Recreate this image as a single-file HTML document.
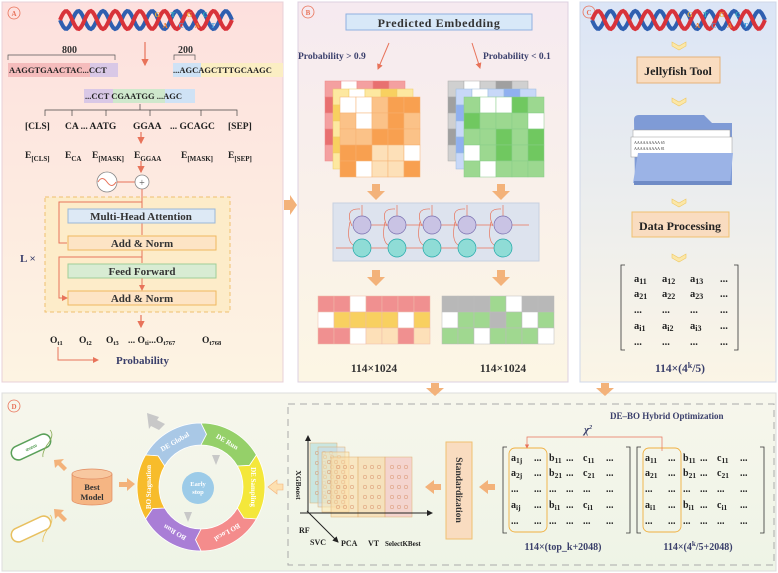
<!DOCTYPE html>
<html><head><meta charset="utf-8">
<style>
html,body{margin:0;padding:0;background:#fff;}
svg{display:block;font-family:"Liberation Serif",serif;font-weight:bold;}
</style></head>
<body>
<svg id="fig" width="778" height="573" viewBox="0 0 778 573" xmlns="http://www.w3.org/2000/svg">
<defs>
<linearGradient id="gA" x1="0" y1="0" x2="0" y2="1"><stop offset="0" stop-color="#fde0de"/><stop offset="1" stop-color="#fdf4e2"/></linearGradient>
<linearGradient id="gB" x1="0" y1="0" x2="0" y2="1"><stop offset="0" stop-color="#f6eaf0"/><stop offset="1" stop-color="#fcf6e4"/></linearGradient>
<linearGradient id="gC" x1="0" y1="0" x2="0" y2="1"><stop offset="0" stop-color="#dbe5f6"/><stop offset="1" stop-color="#fbf5e6"/></linearGradient>
<linearGradient id="gD" x1="0" y1="0" x2="0" y2="1"><stop offset="0" stop-color="#f7f6ec"/><stop offset="1" stop-color="#eef4e6"/></linearGradient>
<marker id="ar" markerWidth="6" markerHeight="6" refX="5" refY="3" orient="auto"><path d="M0,0 L6,3 L0,6 z" fill="#e8735a"/></marker>
<marker id="arb" markerWidth="6" markerHeight="6" refX="5" refY="3" orient="auto"><path d="M0,0 L6,3 L0,6 z" fill="#222"/></marker>
</defs>

<rect x="2" y="2" width="281" height="380" fill="url(#gA)" stroke="#e8d0d8"/>
<rect x="298" y="2" width="270" height="380" fill="url(#gB)" stroke="#ddd0e0"/>
<rect x="580" y="2" width="196" height="380" fill="url(#gC)" stroke="#d0d8e8"/>
<rect x="2" y="393" width="774" height="178" fill="url(#gD)" stroke="#ddd"/>

<g fill="none" stroke="#e8735a" stroke-width="0.8" font-size="7">
<circle cx="14" cy="13" r="6"/><circle cx="308" cy="12" r="6"/><circle cx="589" cy="12" r="6"/><circle cx="14" cy="406" r="6"/>
</g>
<g fill="#e8735a" font-size="7" text-anchor="middle"><text x="14" y="16">A</text><text x="308" y="15">B</text><text x="589" y="15">C</text><text x="14" y="409">D</text></g>

<g id="dnaA"></g>
<g id="dnaC"></g>

<g font-size="9">
<text x="62" y="53" font-size="10" fill="#333">800</text>
<path d="M8,60 V55 H115 V60" fill="none" stroke="#555" stroke-width="0.7"/>
<rect x="8" y="63" width="82" height="14" fill="#f5bcbc"/><rect x="90" y="63" width="28" height="14" fill="#d9c8e6"/>
<text x="9" y="73" font-size="8.5" fill="#222">AAGGTGAACTAC...CCT</text>
<text x="178" y="53" font-size="10" fill="#333">200</text>
<path d="M174,60 V55 H195 V60" fill="none" stroke="#555" stroke-width="0.7"/>
<rect x="173" y="63" width="28" height="14" fill="#cfe2f5"/><rect x="201" y="63" width="82" height="14" fill="#fbeec3"/>
<text x="173" y="73" font-size="8.5" fill="#222">...AGCAGCTTTGCAAGC</text>
<line x1="145" y1="42" x2="145" y2="65" stroke="#e8735a" stroke-width="1.2" marker-end="url(#ar)"/>
<rect x="84" y="89" width="29" height="14" fill="#d9c8e6"/><rect x="113" y="89" width="52" height="14" fill="#cfe8cc"/><rect x="165" y="89" width="30" height="14" fill="#cfe2f5"/>
<text x="85" y="99" font-size="8.5" fill="#222">...CCT CGAATGG ...AGC</text>
<path d="M140,104 V110 M45,116 V110 H237 V116 M72,110 V116 M106,110 V116 M150,110 V116 M201,110 V116" fill="none" stroke="#444" stroke-width="0.7"/>
<text y="129" font-size="9.5" fill="#222"><tspan x="25">[CLS]</tspan><tspan x="65">CA ... AATG</tspan><tspan x="133">GGAA</tspan><tspan x="170">... GCAGC</tspan><tspan x="228">[SEP]</tspan></text>
<line x1="141" y1="132" x2="141" y2="143" stroke="#e8735a" stroke-width="1.2" marker-end="url(#ar)"/>
<text y="158" font-size="9.5" fill="#222"><tspan x="25">E</tspan><tspan font-size="7" dy="3">[CLS]</tspan><tspan x="65" dy="-3">E</tspan><tspan font-size="7" dy="3">CA</tspan><tspan x="92" dy="-3">E</tspan><tspan font-size="7" dy="3">[MASK]</tspan><tspan x="134" dy="-3">E</tspan><tspan font-size="7" dy="3">GGAA</tspan><tspan x="181" dy="-3">E</tspan><tspan font-size="7" dy="3">[MASK]</tspan><tspan x="228" dy="-3">E</tspan><tspan font-size="7" dy="3">[SEP]</tspan></text>
<line x1="141" y1="161" x2="141" y2="172" stroke="#e8735a" stroke-width="1.2" marker-end="url(#ar)"/>
</g>
<g>
<circle cx="107" cy="182" r="10" fill="#fff" stroke="#888" stroke-width="0.8"/>
<path d="M98,182 Q102,175 107,182 T116,182" fill="none" stroke="#e8735a"/>
<line x1="117" y1="182" x2="135" y2="182" stroke="#e8735a"/>
<circle cx="142" cy="182" r="7" fill="#fff" stroke="#888" stroke-width="0.8"/>
<text x="142" y="186" font-size="10" text-anchor="middle" fill="#555" font-weight="normal">+</text>
</g>
<g>
<rect x="45" y="197" width="185" height="115" fill="#fdecc9" stroke="#f0c070" stroke-dasharray="4,3"/>
<path d="M142,189 V208 M142,223 V235 M142,250 V263 M142,278 V290" stroke="#e8735a" stroke-width="1" marker-end="url(#ar)"/>
<path d="M142,202 H59 V243 H67 M142,257 H59 V298 H67" fill="none" stroke="#e8735a" stroke-width="1" marker-end="url(#ar)"/>
<rect x="68" y="209" width="147" height="14" fill="#dde9f5" stroke="#9bb8d8"/>
<text x="141" y="220" font-size="11" text-anchor="middle" fill="#333">Multi-Head Attention</text>
<rect x="68" y="236" width="148" height="14" fill="#fde4c5" stroke="#f0b860"/>
<text x="142" y="247" font-size="11" text-anchor="middle" fill="#333">Add &amp; Norm</text>
<rect x="68" y="264" width="148" height="14" fill="#d8ecd3" stroke="#9fce98"/>
<text x="142" y="275" font-size="11" text-anchor="middle" fill="#333">Feed Forward</text>
<rect x="68" y="291" width="148" height="14" fill="#fde4c5" stroke="#f0b860"/>
<text x="142" y="302" font-size="11" text-anchor="middle" fill="#333">Add &amp; Norm</text>
<text x="20" y="262" font-size="11" fill="#3a3f6b">L ×</text>
<line x1="141" y1="315" x2="141" y2="327" stroke="#e8735a" stroke-width="1.2" marker-end="url(#ar)"/>
</g>
<g fill="#222" font-size="9.5">
<text y="343"><tspan x="50">O</tspan><tspan font-size="6.5" dy="2">t1</tspan><tspan x="79" dy="-2">O</tspan><tspan font-size="6.5" dy="2">t2</tspan><tspan x="106" dy="-2">O</tspan><tspan font-size="6.5" dy="2">t3</tspan><tspan x="128" dy="-2">... O</tspan><tspan font-size="6.5" dy="2">ti</tspan><tspan dy="-2">...O</tspan><tspan font-size="6.5" dy="2">t767</tspan><tspan x="202" dy="-2">O</tspan><tspan font-size="6.5" dy="2">t768</tspan></text>
<path d="M58,347 V360 H98" fill="none" stroke="#e8735a" stroke-width="1" marker-end="url(#ar)"/>
<text x="116" y="364" font-size="11" fill="#3a3f6b">Probability</text>
</g>

<g fill="#f3b27a">
<path d="M284,200 h6 v-5 l7,10 l-7,10 v-5 h-6 z"/>
<path d="M431,383 h8 v5 h5 l-9,8 l-9,-8 h5 z"/>
<path d="M601,383 h8 v5 h5 l-9,8 l-9,-8 h5 z"/>
</g>

<g>
<rect x="346" y="14" width="186" height="16" fill="#d8e8f8" stroke="#8fb0e0"/>
<text x="439" y="27" font-size="12" text-anchor="middle" fill="#333" letter-spacing="0.6">Predicted  Embedding</text>
</g>
<line x1="389" y1="43" x2="378" y2="69" stroke="#e8735a" marker-end="url(#ar)"/>
<line x1="472" y1="43" x2="480" y2="68" stroke="#e8735a" marker-end="url(#ar)"/>
<text x="298" y="59" font-size="9.5" fill="#3a3f6b">Probability &gt; 0.9</text>
<text x="483" y="59" font-size="9.5" fill="#3a3f6b">Probability &lt; 0.1</text>
<g id="gridsB"></g>
<g id="rnn">
<rect x="333" y="203" width="206" height="58" fill="#dde3ee" stroke="#c8d0e0"/>
</g>
<text x="374" y="372" font-size="11.5" text-anchor="middle" fill="#333">114×1024</text>
<text x="503" y="372" font-size="11.5" text-anchor="middle" fill="#333">114×1024</text>

<g id="chev" fill="#fbe7a8" stroke="#f0c860" stroke-width="0.6"></g>
<rect x="637" y="57" width="83" height="26" fill="#f9dcc0" stroke="#e5b27a"/>
<text x="678" y="75" font-size="12" text-anchor="middle" fill="#222">Jellyfish Tool</text>
<g>
<path d="M634,120 q0,-5 5,-5 h65 l8,8 h20 v62 h-97 z" fill="#7f9bd6"/>
<rect x="633" y="130" width="97" height="22" fill="#fff" stroke="#999" stroke-width="0.5"/>
<rect x="631" y="137" width="101" height="20" fill="#fff" stroke="#999" stroke-width="0.5"/>
<text x="634" y="144" font-size="4" fill="#333" font-weight="normal">AAAAAAAAA  65</text>
<text x="634" y="150" font-size="4" fill="#333" font-weight="normal">AAAAAAAAA  81</text>
<path d="M638,153 h95 l-3,30 h-97 z" fill="#9bb3e6"/>
<rect x="634" y="181" width="97" height="4" fill="#6f8bc6"/>
</g>
<rect x="632" y="212" width="97" height="25" fill="#f9dcc0" stroke="#f0c070"/>
<text x="680" y="230" font-size="12" text-anchor="middle" fill="#222">Data Processing</text>
<g id="matC">
<path d="M625,265 h-4 v85 h4 M734,265 h4 v85 h-4" fill="none" stroke="#333" stroke-width="0.8"/>
</g>
<text x="680" y="372" font-size="11.5" text-anchor="middle" fill="#3a3f6b">114×(4<tspan font-size="8" dy="-4">k</tspan><tspan dy="4">/5)</tspan></text>

<rect x="288" y="404" width="486" height="161" fill="none" stroke="#aaa" stroke-dasharray="7,5"/>
<text x="610" y="419" font-size="9" fill="#3a3f6b">DE–BO Hybrid Optimization</text>
<g id="cycle"></g>
<g>
<path d="M72,474 v26 a20,5 0 0 0 40,0 v-26" fill="#f5b583" stroke="#e08a60" stroke-width="0.7"/>
<ellipse cx="92" cy="474" rx="20" ry="5" fill="#f8c8a0" stroke="#e08a60" stroke-width="0.7"/>
<text x="92" y="490" font-size="8.5" text-anchor="middle" fill="#333">Best</text>
<text x="92" y="500" font-size="8.5" text-anchor="middle" fill="#333">Model</text>
</g>
<g fill="#f3b27a">
<path d="M135,484 l-8,-6 v4 h-8 v5 h8 v4 z"/>
<path d="M54,460 l10,-1 l-3,3 l6,6 l-3,3 l-6,-6 l-3,3 z"/>
<path d="M54,509 l1,10 l3,-3 l6,6 l3,-3 l-6,-6 l3,-3 z"/>
<path d="M268,487 l9,-7 v4 h6 v6 h-6 v4 z" fill="#fde0b0" stroke="#f3b27a" stroke-width="0.6"/>
<path d="M425,487 l9,-7 v4 h7 v6 h-7 v4 z"/>
<path d="M479,487 l9,-7 v4 h7 v6 h-7 v4 z"/>
</g>
<g>
<rect x="10" y="440" width="42" height="14" rx="7" transform="rotate(-25 31 447)" fill="#fff" stroke="#5aa05a" stroke-width="1.5"/>
<text x="31" y="449" font-size="4" text-anchor="middle" fill="#5aa05a" transform="rotate(-25 31 447)">ꝏꝏꝏ</text>
<path d="M50,430 q5,5 -3,15 q-5,8 -4,12" fill="none" stroke="#8a5" stroke-width="0.8"/>
<rect x="10" y="522" width="42" height="14" rx="7" transform="rotate(-25 31 529)" fill="#fff" stroke="#e8c060" stroke-width="1.5"/>
<path d="M50,515 q5,5 -3,15 q-5,8 -4,12" fill="none" stroke="#e8c060" stroke-width="0.8"/>
</g>
<g id="featChart"></g>
<g>
<rect x="446" y="442" width="26" height="97" fill="#f9dcc0" stroke="#f0c070"/>
<text x="0" y="0" font-size="9.5" fill="#333" text-anchor="middle" transform="translate(456 490) rotate(90)">Standardization</text>
</g>
<g id="matD"></g>
<path d="M662,451 V437 H527 V448" fill="none" stroke="#e8735a" stroke-width="0.7" marker-end="url(#ar)"/>
<text x="584" y="433" font-size="11" fill="#3a3f6b" font-style="italic">χ<tspan font-size="6" dy="-4">2</tspan></text>
<text x="563" y="550" font-size="10" text-anchor="middle" fill="#3a3f6b">114×(top_k+2048)</text>
<text x="698" y="550" font-size="10" text-anchor="middle" fill="#3a3f6b">114×(4<tspan font-size="7" dy="-4">k</tspan><tspan dy="4">/5+2048)</tspan></text>
</svg>

<script>
const NS="http://www.w3.org/2000/svg";
function mk(tag,attrs,parent){const e=document.createElementNS(NS,tag);for(const k in attrs)e.setAttribute(k,attrs[k]);parent.appendChild(e);return e;}

function dna(g,x0,x1,yc,amp){
  const turns=7;
  let d1="",d2="";
  for(let i=0;i<=100;i++){const t=i/100;const x=x0+t*(x1-x0);const y1=yc+amp*Math.sin(t*turns*2*Math.PI);const y2=yc-amp*Math.sin(t*turns*2*Math.PI);d1+=(i?"L":"M")+x+","+y1;d2+=(i?"L":"M")+x+","+y2;}
  mk('path',{d:d1,fill:'none',stroke:'#2f5fb0','stroke-width':4},g);
  mk('path',{d:d2,fill:'none',stroke:'#d8333a','stroke-width':4},g);
  const letters=["G","A","T","C","G","A","C","T"],cols=["#f0b030","#f08030","#30b0c0","#40a0e0"];
  for(let i=0;i<8;i++){const t=mk('text',{x:x0+(x1-x0)*0.55+i*8,y:yc+(i%2?8:-3),'font-size':7,fill:cols[i%4]},g);t.textContent=letters[i];}
}
dna(document.getElementById('dnaA'),60,232,20,9);
dna(document.getElementById('dnaC'),592,765,20,9);

const gridFront=[[0,0,2,3,3],[2,0,2,3,2],[2,2,3,3,2],[3,3,1,1,0],[3,0,1,1,3]];
const gridFrontG=[[2,0,0,3,2],[3,2,2,2,0],[2,2,3,2,3],[0,2,3,2,3],[2,0,2,2,2]];
const outL=[[3,3,0,3,3,3,3],[0,2,2,2,2,0,2],[3,3,0,1,1,3,1]];
const outR=[[3,3,3,2,0,3,3],[0,2,2,3,2,0,2],[2,2,0,2,2,2,0]];
function grid(g,x,y,cw,ch,data,pal,border){
  data.forEach((row,r)=>row.forEach((v,c)=>{
    const cell=mk('rect',{x:x+c*cw,y:y+r*ch,width:cw,height:ch,fill:v?pal[v-1]:'#fff',stroke:border,'stroke-width':0.5},g);
    
    
  }));
}
const gB=document.getElementById('gridsB');
const full=[[1,0,1,2,1],[2,1,2,1,2],[1,2,1,2,1],[2,1,2,1,2],[1,2,1,2,1]];
grid(gB,325,81,16,16,full,['#f4a0a0','#e87070','#d85050'],'#e88');
grid(gB,333,89,16,16,full,['#fde8a0','#f8d060','#f0c040'],'#ec6');
grid(gB,340,97,16,16,gridFront,['#fde0b8','#fbc288','#f8a050'],'#f5b070');
grid(gB,448,81,16,16,full,['#d0d0d0','#a0a0a0','#808080'],'#aaa');
grid(gB,456,89,16,16,full,['#c8d8f8','#90b0f0','#6090e0'],'#9bd');
grid(gB,464,97,16,16,gridFrontG,['#c8e8c0','#9cd890','#70c860'],'#8c8');
grid(gB,318,296,16,16,outL,['#fde0b8','#f8d060','#f09090'],'#eba');
grid(gB,442,296,16,16,outR,['#c8e0f8','#a0d890','#b8b8b8'],'#bbb');
[[376,184],[501,184],[376,270],[501,270]].forEach(p=>{
  const a=mk('path',{d:`M${p[0]-4},${p[1]} h8 v7 h5 l-9,9 l-9,-9 h5 z`,fill:'#f3b27a'},gB);
  
  
});
const rnn=document.getElementById('rnn');
const xs=[362,397,432,467,503];
xs.forEach((x,i)=>{
  mk('path',{d:`M${x-10},${226} Q${x-18},${208} ${x-2},${209}`,fill:'none',stroke:'#e8735a','stroke-width':0.7},rnn);
  mk('line',{x1:x,y1:205,x2:x,y2:216,stroke:'#e8735a','stroke-width':0.7},rnn);
  mk('path',{d:`M${x-12},${222} Q${x-16},${240} ${x-9},${245}`,fill:'none',stroke:'#e8735a','stroke-width':0.7},rnn);
  mk('line',{x1:x+9,y1:225,x2:x+26,y2:225,stroke:'#e8735a','stroke-width':0.7},rnn);
  mk('line',{x1:x-9,y1:248,x2:x-26,y2:248,stroke:'#e8735a','stroke-width':0.7},rnn);
  const c1=mk('circle',{cx:x,cy:225,r:9,fill:'#c9c3e4',stroke:'#7a70b0','stroke-width':0.7},rnn);
  
  
  const c2=mk('circle',{cx:x,cy:248,r:9,fill:'#8fdcd6',stroke:'#20a8a8','stroke-width':0.7},rnn);
  
  
});
const ch=document.getElementById('chev');
[42,98,199,254].forEach(y=>{mk('path',{d:`M672,${y} l7,4 l7,-4 v4 l-7,4 l-7,-4 z`},ch);});
const mC=document.getElementById('matC');
const rowsC=[["a11","a12","a13","..."],["a21","a22","a23","..."],["...","...","...","..."],["ai1","ai2","ai3","..."],["...","...","...","..."]];
const rowY=[282,297,313,329,345],colX=[634,662,690,720];
rowsC.forEach((row,r)=>row.forEach((s,c)=>{
  const t=mk('text',{x:colX[c],y:rowY[r],'font-size':10.5,fill:'#222'},mC);
  if(s[0]==='a'){t.textContent='a';const ts=mk('tspan',{'font-size':8,dy:2},t);ts.textContent=s.slice(1);} else t.textContent=s;
}));
const cyc=document.getElementById('cycle');
const cx=201,cy=487,R=64,r0=42;
const segs=[["DE Global","#a9c8e6",-150],["DE Run","#95d069",-90],["DE Sampling","#f4e73a",-30],["BO Local","#f48c8c",30],["BO Run","#a97ed6",90],["BO Stagnation","#f7bc2b",150]];
function pt(a,r){const t=a*Math.PI/180;return [cx+r*Math.cos(t),cy+r*Math.sin(t)];}
segs.forEach(s=>{
  const a0=s[2],a1=s[2]+60,am=a1+6;
  const p1=pt(a0,R),p2=pt(a1,R),p3=pt(am,(R+r0)/2),p4=pt(a1,r0),p5=pt(a0,r0),p6=pt(a0+6,(R+r0)/2);
  const d=`M${p1} A${R},${R} 0 0 1 ${p2} L${p3} L${p4} A${r0},${r0} 0 0 0 ${p5} L${p6} Z`;
  const e=mk('path',{d:d,fill:s[1],stroke:'#fff','stroke-width':0.8},cyc);
  
  
  const m=a0+30,p=pt(m,(R+r0)/2);
  const t=mk('text',{x:p[0],y:p[1]+3,'font-size':7,fill:'#fff','text-anchor':'middle',transform:`rotate(${m+90} ${p[0]} ${p[1]})`},cyc);
  t.textContent=s[0];
});
mk('circle',{cx:198,cy:488,r:16,fill:'#9ccbe8'},cyc);
const es=mk('text',{x:198,y:486,'font-size':6.5,fill:'#fff','text-anchor':'middle'},cyc);es.textContent='Early';
const es2=mk('text',{x:198,y:494,'font-size':6.5,fill:'#fff','text-anchor':'middle'},cyc);es2.textContent='stop';
mk('path',{d:'M147,413 l12,4 l-2,3 l8,4 l-6,6 l-8,-4 l-2,3 z',fill:'#c8c8c8'},cyc);
mk('path',{d:'M212,455 l8,0 l-4,10 z M184,512 l8,0 l-4,10 z',fill:'#c8c8c8'},cyc);
const fc=document.getElementById('featChart');
const planes=[["#a8d8d8",310,443],["#c8d8e8",318,447],["#fde8b0",322,452],["#fcd8a0",331,457],["#f8d098",358,457],["#f4b8b8",385,457]];
planes.forEach(p=>{const e=mk('rect',{x:p[1],y:p[2],width:27,height:60,fill:p[0],'fill-opacity':0.55,stroke:'#e0b070','stroke-width':0.5},fc);
  
  
  for(let i=0;i<3;i++)for(let j=0;j<5;j++)mk('circle',{cx:p[1]+7+i*7,cy:p[2]+10+j*10,r:1.8,fill:'none',stroke:'#d8906a','stroke-width':0.5},fc);});
mk('line',{x1:308,y1:513,x2:308,y2:436,stroke:'#222','marker-end':'url(#arb)'},fc);
mk('line',{x1:300,y1:513,x2:432,y2:513,stroke:'#222','marker-end':'url(#arb)'},fc);
mk('line',{x1:307,y1:511,x2:338,y2:542,stroke:'#222','marker-end':'url(#arb)'},fc);
const xl=mk('text',{x:0,y:0,'font-size':7.5,fill:'#222','text-anchor':'middle',transform:'translate(296 485) rotate(90)'},fc);xl.textContent='XGBoost';
[["RF",299,533],["SVC",310,545],["PCA",341,546],["VT",368,546],["SelectKBest",385,546]].forEach(l=>{const t=mk('text',{x:l[1],y:l[2],'font-size':l[0]==='SelectKBest'?7:8,fill:'#222'},fc);t.textContent=l[0];});
const mD=document.getElementById('matD');
function matD(x0,first){
  mk('path',{d:`M${x0+4},447 h-4 v86 h4 M${x0+123},447 h4 v86 h-4`,fill:'none',stroke:'#333','stroke-width':0.8},mD);
  mk('rect',{x:x0+6,y:448,width:38,height:84,rx:6,fill:'none',stroke:'#f0b040','stroke-width':0.9},mD);
  const rows=first?[["a1j","...","b11","...","c11","..."],["a2j","...","b21","...","c21","..."],["...","...","...","...","...","..."],["aij","...","bi1","...","ci1","..."],["...","...","...","...","...","..."]]
  :[["a11","...","b11","...","c11","..."],["a21","...","b21","...","c21","..."],["...","...","...","...","...","..."],["ai1","...","bi1","...","ci1","..."],["...","...","...","...","...","..."]];
  const ry=[461,476,492,508,524],cxs=[8,31,46,63,80,103];
  rows.forEach((row,r)=>row.forEach((s,c)=>{
    const t=mk('text',{x:x0+cxs[c],y:ry[r],'font-size':10,fill:'#222'},mD);
    if(s!=="..."){t.textContent=s[0];const ts=mk('tspan',{'font-size':7.5,dy:2},t);ts.textContent=s.slice(1);} else t.textContent=s;
  }));
}
matD(503,true);matD(637,false);
</script>
</body></html>
